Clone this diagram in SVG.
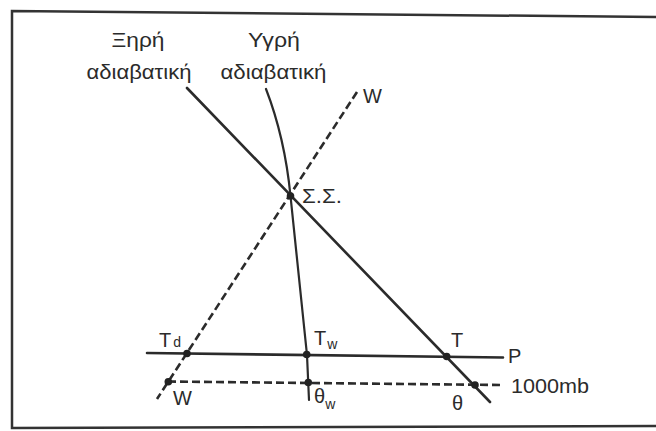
<svg xmlns="http://www.w3.org/2000/svg" width="656" height="431" viewBox="0 0 656 431">
<style>
text{font-family:"Liberation Sans",Arial,sans-serif;fill:#2b2b2b;font-size:20px}
.sub{font-size:14px}
.solid{fill:none;stroke:#2b2b2b;stroke-width:2.6;stroke-linecap:round}
.thin{fill:none;stroke:#2b2b2b;stroke-width:2.2;stroke-linecap:round}
.dash{fill:none;stroke:#2b2b2b;stroke-width:2.6;stroke-dasharray:8 4}
.dot{fill:#222}
</style>
<rect x="0" y="0" width="656" height="431" fill="#fff"/>
<path d="M656,17 L12,11 L12,428 L656,426" fill="none" stroke="#333" stroke-width="2.5"/>
<g id="connectors">
<path id="dry" class="solid" d="M187,88 L490,402"/>
<path id="moist" class="thin" d="M266,89 C278,120 287,160 290.5,196 L307,355 L309,400"/>
<path id="wline" class="dash" d="M357,92 L157,399"/>
<path id="pline" class="solid" d="M147,353 L503,357.5"/>
<path id="mb1000" class="dash" d="M168,381.5 L503,385"/>
</g>
<g id="labels-top">
<text x="138" y="47" text-anchor="middle" textLength="53" lengthAdjust="spacingAndGlyphs">Ξηρή</text>
<text x="139" y="79" text-anchor="middle" textLength="105" lengthAdjust="spacingAndGlyphs">αδιαβατική</text>
<text x="274" y="47" text-anchor="middle" textLength="52" lengthAdjust="spacingAndGlyphs">Υγρή</text>
<text x="273.5" y="79" text-anchor="middle" textLength="106" lengthAdjust="spacingAndGlyphs">αδιαβατική</text>
</g>
<g id="node-ss"><circle class="dot" cx="290.5" cy="196" r="3.8"/><text x="302" y="203" textLength="40" lengthAdjust="spacingAndGlyphs">Σ.Σ.</text></g>
<g id="node-wtop"><text x="363" y="103" font-size="22">W</text></g>
<g id="node-td"><circle class="dot" cx="187" cy="353.5" r="3.8"/><text x="159" y="347">T<tspan class="sub" dx="2" dy="0">d</tspan></text></g>
<g id="node-tw"><circle class="dot" cx="306.7" cy="354.5" r="3.8"/><text x="314" y="345">T<tspan class="sub" dx="1" dy="4">w</tspan></text></g>
<g id="node-t"><circle class="dot" cx="446.7" cy="356.5" r="3.8"/><text x="451" y="347">T</text></g>
<g id="node-p"><text x="508" y="363">P</text></g>
<g id="node-wbot"><circle class="dot" cx="168.3" cy="381.7" r="3.8"/><text x="173" y="405" font-size="22">W</text></g>
<g id="node-thw"><circle class="dot" cx="308.3" cy="382.5" r="3.8"/><text x="314" y="403" font-size="21">θ<tspan class="sub" dx="0" dy="6">w</tspan></text></g>
<g id="node-th"><circle class="dot" cx="475" cy="385" r="3.8"/><text x="452" y="410" font-size="21">θ</text></g>
<g id="node-1000"><text x="511" y="393" textLength="78" lengthAdjust="spacingAndGlyphs">1000mb</text></g>
</svg>
